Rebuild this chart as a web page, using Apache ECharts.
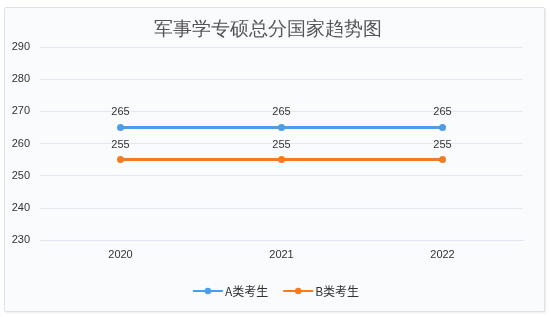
<!DOCTYPE html>
<html><head><meta charset="utf-8">
<script src="https://cdn.jsdelivr.net/npm/echarts@6/dist/echarts.min.js"></script>
<style>
html,body{margin:0;padding:0;background:#fff;}
#wrap{position:absolute;left:4px;top:7px;width:539px;height:303px;border:1px solid #dfe2e8;border-radius:2px;background:#fafbfd;box-shadow:1px 1px 2px rgba(0,0,0,0.08);}
#c{position:absolute;left:0;top:0;width:551px;height:317px;}
</style></head>
<body>
<div id="wrap"></div>
<div id="c"></div>
<script>
const titleText = '军事学专硕总分国家趋势图';
const years = ['2020', '2021', '2022'];
const seriesNames = ['A类考生', 'B类考生'];
const seriesA = [265, 265, 265];
const seriesB = [255, 255, 255];
const yMin = 230, yMax = 290, yStep = 10;

const chart = echarts.init(document.getElementById('c'), null, {renderer: 'canvas'});
chart.setOption({
  animation: false,
  backgroundColor: 'transparent',
  title: {
    text: titleText, left: 149, top: 16,
    textStyle: {fontSize: 18.5, fontWeight: 'normal', color: '#555', fontFamily: 'serif'}
  },
  legend: {
    bottom: 15, left: 'center', itemWidth: 30, itemHeight: 8, itemGap: 14,
    textStyle: {fontSize: 12, color: '#333', fontFamily: 'Noto Sans CJK SC', padding: [0, 0, 0, -3]},
    data: seriesNames
  },
  grid: {left: 40, right: 28, top: 47, bottom: 77, containLabel: false},
  xAxis: {
    type: 'category', data: years, boundaryGap: true,
    axisLine: {lineStyle: {color: '#e0e6f1'}},
    axisTick: {show: false},
    axisLabel: {color: '#333', fontSize: 11, margin: 9, fontFamily: 'Liberation Sans'}
  },
  yAxis: {
    type: 'value', min: yMin, max: yMax, interval: yStep,
    axisLine: {show: false}, axisTick: {show: false},
    axisLabel: {color: '#333', fontSize: 11, margin: 10, fontFamily: 'Liberation Sans'},
    splitLine: {lineStyle: {color: '#e3e7ef'}}
  },
  series: [
    {name: seriesNames[0], type: 'line', data: seriesA, symbol: 'circle', symbolSize: 7,
     lineStyle: {width: 3, color: '#4d9de6'}, itemStyle: {color: '#4d9de6'},
     label: {show: true, position: 'top', distance: 6, color: '#333', fontSize: 11, fontFamily: 'Liberation Sans'}},
    {name: seriesNames[1], type: 'line', data: seriesB, symbol: 'circle', symbolSize: 7,
     lineStyle: {width: 3, color: '#f47b20'}, itemStyle: {color: '#f47b20'},
     label: {show: true, position: 'top', distance: 6, color: '#333', fontSize: 11, fontFamily: 'Liberation Sans'}}
  ]
});
</script>
</body></html>
